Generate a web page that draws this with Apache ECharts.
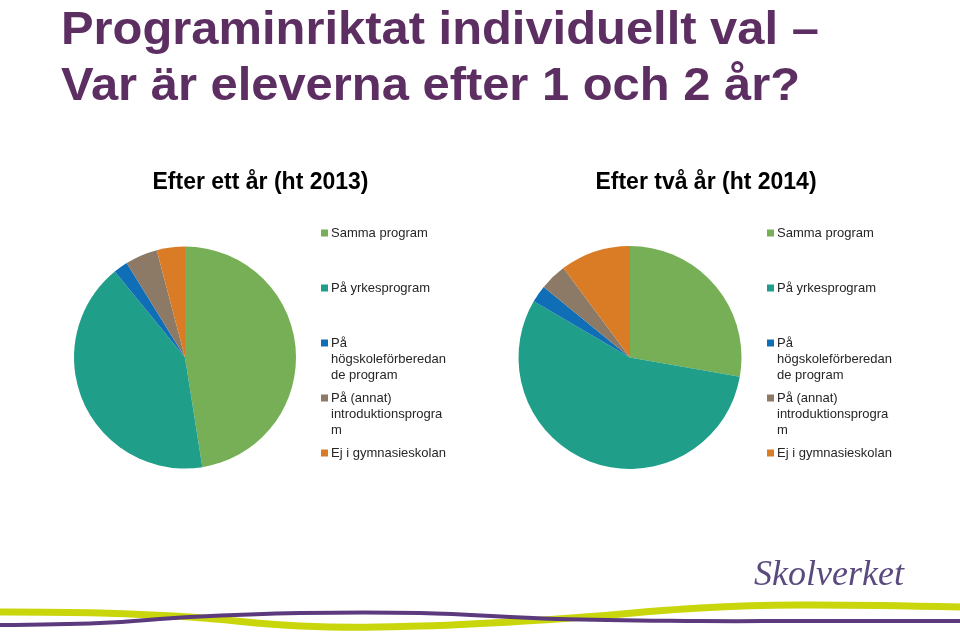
<!DOCTYPE html>
<html>
<head>
<meta charset="utf-8">
<script src="https://cdn.jsdelivr.net/npm/echarts@6/dist/echarts.min.js"></script>
<style>html,body{margin:0;padding:0;background:#fff}#c{width:960px;height:636px}</style>
</head>
<body>
<div id="c"></div>
<script>
const categories = ['Samma program', 'På yrkesprogram', 'På högskoleförberedande program', 'På (annat) introduktionsprogram', 'Ej i gymnasieskolan'];
const legendLabels = ['Samma program', 'På yrkesprogram', 'På\nhögskoleförberedan\nde program', 'På (annat)\nintroduktionsprogra\nm', 'Ej i gymnasieskolan'];
const values2013 = [47.5, 41.6, 2.1, 4.7, 4.1];
const values2014 = [27.8, 55.7, 2.5, 3.9, 10.2];
const pieTitles = ['Efter ett år (ht 2013)', 'Efter två år (ht 2014)'];
const mainTitle = 'Programinriktat individuellt val –\nVar är eleverna efter 1 och 2 år?';
const colors = ['#77AF57', '#1F9E89', '#0F6EB5', '#8C7A66', '#D97C25'];

const chart = echarts.init(document.getElementById('c'));

function makeLegends(left) {
  return categories.map((name, i) => ({
    data: [name],
    left: left,
    top: 225 + i * 55,
    orient: 'vertical',
    padding: 0,
    itemWidth: 0,
    itemHeight: 0,
    selectedMode: false,
    textStyle: {
      fontFamily: 'Liberation Sans, Arial, sans-serif',
      fontSize: 13,
      lineHeight: 16,
      color: '#262626',
      rich: {
        m: { width: 7, height: 7, backgroundColor: colors[i] },
        g: { width: 3 },
        g2: { width: 10 }
      }
    },
    formatter: function (n) {
      const idx = categories.indexOf(n);
      const lines = legendLabels[idx].split('\n');
      return lines.map((l, k) => (k === 0 ? '{m|}{g|}' : '{g2|}') + l).join('\n');
    }
  }));
}

function pieData(vals) {
  return categories.map((n, i) => ({ name: n, value: vals[i], itemStyle: { color: colors[i] } }));
}

const option = {
  animation: false,
  backgroundColor: '#fff',
  legend: makeLegends(316).concat(makeLegends(762)),
  series: [
    {
      type: 'pie', name: '2013', center: [185, 357.5], radius: 111,
      startAngle: 90, clockwise: true,
      label: { show: false }, labelLine: { show: false },
      itemStyle: { borderWidth: 0 },
      emphasis: { disabled: true },
      data: pieData(values2013)
    },
    {
      type: 'pie', name: '2014', center: [630, 357.5], radius: 111.5,
      startAngle: 90, clockwise: true,
      label: { show: false }, labelLine: { show: false },
      itemStyle: { borderWidth: 0 },
      emphasis: { disabled: true },
      data: pieData(values2014)
    }
  ],
  graphic: [
    { type: 'text', x: 61, y: 3, scaleX: 1.04, style: { text: mainTitle, textVerticalAlign: 'top', lineHeight: 56, font: 'bold 47px "Liberation Sans", Arial, sans-serif', fill: '#5C2E62' } },
    { type: 'text', x: 260.5, y: 183, style: { text: pieTitles[0], textAlign: 'center', textVerticalAlign: 'middle', font: 'bold 23px "Liberation Sans", Arial, sans-serif', fill: '#000' } },
    { type: 'text', x: 706, y: 183, style: { text: pieTitles[1], textAlign: 'center', textVerticalAlign: 'middle', font: 'bold 23px "Liberation Sans", Arial, sans-serif', fill: '#000' } },
    { type: 'text', x: 754, y: 576, style: { text: 'Skolverket', textVerticalAlign: 'middle', font: 'italic 36px "Liberation Serif", "DejaVu Serif", serif', fill: '#5A4A7E' } },
    { type: 'polyline', shape: { points: [[0, 612], [100, 613], [190, 617], [300, 626], [420, 626], [557, 619], [700, 608], [800, 605], [960, 607]], smooth: 0.4 }, style: { stroke: '#CAD60C', lineWidth: 7, fill: null } },
    { type: 'polyline', shape: { points: [[0, 625], [100, 623], [190, 617], [300, 613], [420, 613], [557, 619], [700, 621], [800, 621], [960, 621]], smooth: 0.4 }, style: { stroke: '#5B3A7E', lineWidth: 4, fill: null } }
  ]
};
chart.setOption(option);
</script>
</body>
</html>
